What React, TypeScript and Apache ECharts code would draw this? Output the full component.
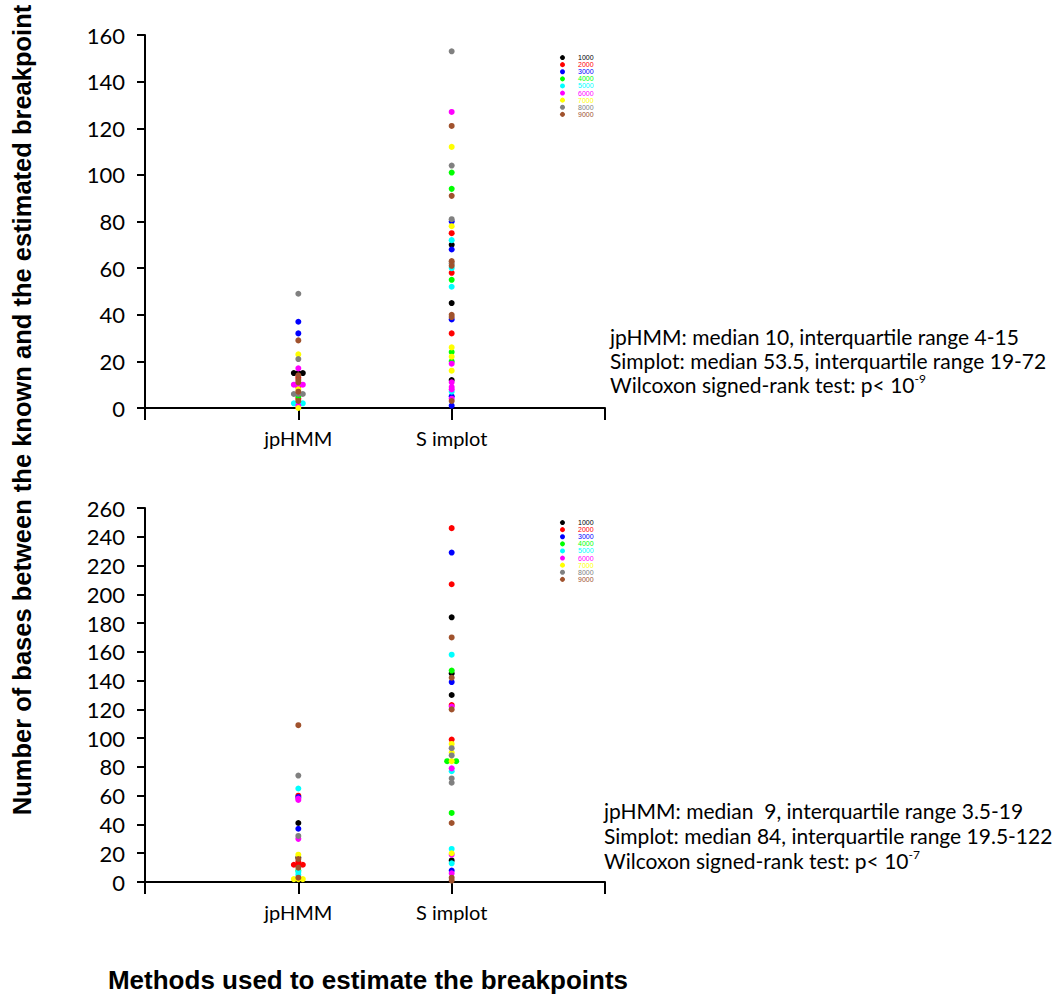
import React, { useEffect, useRef } from 'react';
import * as echarts from 'echarts';

const groupNames = ['1000', '2000', '3000', '4000', '5000', '6000', '7000', '8000', '9000'];
const groupColors = ['#000000', '#ff0000', '#0000ff', '#00ff00', '#00ffff', '#ff00ff', '#ffff00', '#808080', '#a0522d'];
const methodLabels = ['', 'jpHMM', 'S implot', ''];

// Top panel values, one list per group (1000..9000)
const topJpHMM: number[][] = [
  [15, 15, 15],
  [13, 9, 4],
  [37, 32],
  [5],
  [2, 2, 2],
  [17, 10, 10, 10, 1],
  [23, 8, 0],
  [49, 21, 6, 6, 6],
  [29, 14, 12, 11, 7, 3],
];
const topSimplot: number[][] = [
  [70, 45, 12],
  [75, 58, 32],
  [80, 68, 38, 5, 1],
  [101, 94, 55, 24, 20],
  [72, 60, 52, 7],
  [127, 19, 11, 9, 8, 4],
  [112, 78, 26, 22, 16],
  [153, 104, 81, 62],
  [121, 91, 63, 61, 40, 39, 3],
];
// Bottom panel values
const bottomJpHMM: number[][] = [
  [41, 17],
  [60, 14, 12, 12, 12],
  [59, 37],
  [8],
  [65, 7, 5],
  [58, 57, 30],
  [19, 2, 2, 2],
  [74, 32],
  [109, 16, 10, 3],
];
const bottomSimplot: number[][] = [
  [184, 145, 130, 15],
  [246, 207, 123, 99],
  [229, 139, 8],
  [147, 84, 84, 48],
  [158, 77, 23, 13],
  [122, 79, 19, 6],
  [96, 90, 84, 20],
  [93, 88, 72, 69],
  [170, 142, 120, 41, 3, 1],
];

const topYMax = 160;
const bottomYMax = 260;
const yInterval = 20;

const topNotes = [
  'jpHMM: median 10, interquartile range 4-15',
  'Simplot: median 53.5, interquartile range 19-72',
];
const topP = '-9';
const bottomNotes = [
  'jpHMM: median  9, interquartile range 3.5-19',
  'Simplot: median 84, interquartile range 19.5-122',
];
const bottomP = '-7';

const GRID_LEFT = 145;
const GRID_W = 460;
const X_MAX = 3;
const JITTER_SPREAD_PX = 9;

function jitter(values: number[], xCenter: number): number[][] {
  const unit = X_MAX / GRID_W;
  const counts: Record<string, number> = {};
  values.forEach((v) => (counts[v] = (counts[v] || 0) + 1));
  const seen: Record<string, number> = {};
  return values.map((v) => {
    const n = counts[v];
    const i = seen[v] || 0;
    seen[v] = i + 1;
    const off = n > 1 ? (i / (n - 1) - 0.5) * JITTER_SPREAD_PX : 0;
    return [xCenter + off * unit, v];
  });
}

const FONT = 'Lato';

export default function App() {
  const ref = useRef<HTMLDivElement>(null);
  useEffect(() => {
    if (!ref.current) return;
    const chart = echarts.init(ref.current, undefined, { renderer: 'svg' });

    const series: any[] = [];
    const panels = [
      { jp: topJpHMM, sp: topSimplot },
      { jp: bottomJpHMM, sp: bottomSimplot },
    ];
    panels.forEach((p, gi) => {
      groupNames.forEach((name, ci) => {
        series.push({
          type: 'scatter',
          name,
          xAxisIndex: gi,
          yAxisIndex: gi,
          symbol: 'circle',
          symbolSize: 6,
          itemStyle: { color: groupColors[ci], opacity: 1 },
          data: [...jitter(p.jp[ci], 1), ...jitter(p.sp[ci], 2)],
        });
      });
    });

    const xAxisBase = {
      type: 'value',
      min: 0,
      max: X_MAX,
      interval: 1,
      axisLine: { show: true, onZero: false, lineStyle: { color: '#000', width: 2 } },
      axisTick: { show: true, length: 12, lineStyle: { color: '#000', width: 2 } },
      splitLine: { show: false },
      axisLabel: {
        margin: 20,
        fontSize: 20,
        fontFamily: FONT,
        color: '#000',
        formatter: (v: number) => methodLabels[Math.round(v)] || '',
      },
    };
    const yAxisBase = (max: number) => ({
      type: 'value',
      min: 0,
      max,
      interval: yInterval,
      axisLine: { show: true, lineStyle: { color: '#000', width: 2 } },
      axisTick: { show: true, length: 8, lineStyle: { color: '#000', width: 2 } },
      splitLine: { show: false },
      axisLabel: { margin: 20, fontSize: 22, fontFamily: FONT, color: '#000' },
    });

    const legendBase = (top: number) => ({
      orient: 'vertical',
      left: 555,
      top,
      icon: 'circle',
      itemWidth: 5,
      itemHeight: 5,
      itemGap: 0,
      itemStyle: { borderWidth: 0, opacity: 1 },
      textStyle: { fontSize: 7, lineHeight: 7.1, fontFamily: 'Liberation Sans', padding: [0, 0, 0, 8] },
      selectedMode: false,
      data: groupNames.map((n, i) => ({ name: n, textStyle: { color: groupColors[i] } })),
    });

    const noteText = (x: number, y: number, gap: number, lines: string[], p: string) => [
      ...lines.map((t, i) => ({
        type: 'text',
        style: {
          x,
          y: y + i * gap,
          text: t,
          fontSize: 21,
          fontFamily: FONT,
          fill: '#000',
          verticalAlign: 'middle',
        },
      })),
      {
        type: 'text',
        style: {
          x,
          y: y + 2 * gap,
          text: `{n|Wilcoxon signed-rank test: p< 10}{s|${p}}`,
          fontFamily: FONT,
          fill: '#000',
          verticalAlign: 'middle',
          rich: {
            n: { fontSize: 21, lineHeight: 24, fontFamily: FONT, fill: '#000' },
            s: { fontSize: 12, lineHeight: 12, fontFamily: FONT, verticalAlign: 'top', fill: '#000' },
          },
        },
      },
    ];

    chart.setOption({
      animation: false,
      backgroundColor: '#fff',
      grid: [
        { left: GRID_LEFT, top: 35, width: GRID_W, height: 373 },
        { left: GRID_LEFT, top: 508, width: GRID_W, height: 374 },
      ],
      xAxis: [
        { ...xAxisBase, gridIndex: 0 },
        { ...xAxisBase, gridIndex: 1 },
      ],
      yAxis: [
        { ...yAxisBase(topYMax), gridIndex: 0 },
        { ...yAxisBase(bottomYMax), gridIndex: 1 },
      ],
      legend: [legendBase(49), legendBase(514)],
      series,
      graphic: [
        ...noteText(610, 336, 24, topNotes, topP),
        ...noteText(604, 810, 25, bottomNotes, bottomP),
        {
          type: 'text',
          x: 22,
          y: 410,
          rotation: Math.PI / 2,
          style: {
            text: 'Number of bases between the known and the estimated breakpoint',
            fontSize: 25.5,
            fontWeight: 'bold',
            fontFamily: 'Liberation Sans',
            fill: '#000',
            align: 'center',
            verticalAlign: 'middle',
          },
        },
        {
          type: 'text',
          x: 368,
          y: 980,
          style: {
            text: 'Methods used to estimate the breakpoints',
            fontSize: 26,
            fontWeight: 'bold',
            fontFamily: 'Liberation Sans',
            fill: '#000',
            align: 'center',
            verticalAlign: 'middle',
          },
        },
      ],
    });
    return () => chart.dispose();
  }, []);
  return <div ref={ref} style={{ position: 'fixed', left: 0, top: 0, width: 1056, height: 994 }} />;
}
